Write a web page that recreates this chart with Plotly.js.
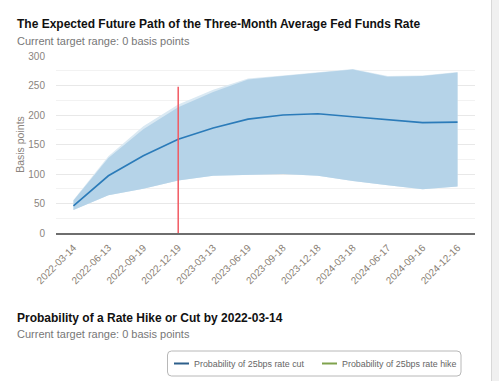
<!DOCTYPE html>
<html>
<head>
<meta charset="utf-8">
<script src="https://cdn.plot.ly/plotly-3.0.1.min.js"></script>
<style>
html,body{margin:0;padding:0;background:#fff;overflow:hidden;}
#chart{width:499px;height:381px;}
</style>
</head>
<body>
<div id="chart"></div>
<script>
// ---- data ----
const dates = ['2022-03-14','2022-06-13','2022-09-19','2022-12-19','2023-03-13','2023-06-19',
               '2023-09-18','2023-12-18','2024-03-18','2024-06-17','2024-09-16','2024-12-16'];
const meanPath  = [46, 97, 131, 159, 178, 193, 200, 202, 197, 192, 187, 188];
const upperBand = [55, 127, 176, 213, 239, 260, 266, 272, 277, 265, 266, 272];
const lowerBand = [39, 64, 75, 89, 97, 99, 100, 97, 88, 81, 74, 79];
const outerUpper = [56, 130, 181, 218, 243, 262, 267, 273, 278, 266, 267, 273];
const outerLower = [39, 64, 75, 89, 97, 99, 100, 97, 88, 81, 74, 79];
const markerDate = '2022-12-19';
const markerRange = [0, 248];
const yTitle = 'Basis points';
const title1 = 'The Expected Future Path of the Three-Month Average Fed Funds Rate';
const sub1 = 'Current target range: 0 basis points';
const title2 = 'Probability of a Rate Hike or Cut by 2022-03-14';
const sub2 = 'Current target range: 0 basis points';
const legendNames = ['Probability of 25bps rate cut', 'Probability of 25bps rate hike'];
const legendColors = ['#2d5f8b', '#7fa24c'];

// ---- layout geometry ----
const W = 499, H = 381, L = 56, R = 24, T = 56, B = 148;
const PW = W - L - R, PH = H - T - B;
const px = x => (x - L) / PW;
const py = y => (H - B - y) / PH;

const font = 'Liberation Sans, Arial, sans-serif';

const traces = [
  {x: dates, y: outerLower, type: 'scatter', mode: 'lines', line: {width: 0}, hoverinfo: 'skip', showlegend: false},
  {x: dates, y: outerUpper, type: 'scatter', mode: 'lines', line: {width: 0}, fill: 'tonexty',
   fillcolor: 'rgba(218,233,243,1)', hoverinfo: 'skip', showlegend: false},
  {x: dates, y: lowerBand, type: 'scatter', mode: 'lines', line: {width: 0}, hoverinfo: 'skip', showlegend: false},
  {x: dates, y: upperBand, type: 'scatter', mode: 'lines', line: {width: 0}, fill: 'tonexty',
   fillcolor: 'rgba(181,211,232,1)', hoverinfo: 'skip', showlegend: false},
  {x: dates, y: meanPath, type: 'scatter', mode: 'lines', line: {color: '#2b7bb9', width: 1.6}, showlegend: false},
  {x: [markerDate, markerDate], y: markerRange, type: 'scatter', mode: 'lines',
   line: {color: '#f25a63', width: 1.5}, showlegend: false}
];

const annotations = [
  {text: '<b>' + title1 + '</b>', x: px(15), y: py(24), xref: 'paper', yref: 'paper', xanchor: 'left', yanchor: 'middle',
   showarrow: false, font: {family: font, size: 12, color: '#111'}},
  {text: sub1, x: px(15), y: py(41), xref: 'paper', yref: 'paper', xanchor: 'left', yanchor: 'middle',
   showarrow: false, font: {family: font, size: 11, color: '#777'}},
  {text: '<b>' + title2 + '</b>', x: px(15), y: py(318), xref: 'paper', yref: 'paper', xanchor: 'left', yanchor: 'middle',
   showarrow: false, font: {family: font, size: 12, color: '#111'}},
  {text: sub2, x: px(15), y: py(334), xref: 'paper', yref: 'paper', xanchor: 'left', yanchor: 'middle',
   showarrow: false, font: {family: font, size: 11, color: '#777'}},
  {text: legendNames[0], x: px(192), y: py(363.5), xref: 'paper', yref: 'paper', xanchor: 'left', yanchor: 'middle',
   showarrow: false, font: {family: font, size: 8.9, color: '#666'}},
  {text: legendNames[1], x: px(340), y: py(363.5), xref: 'paper', yref: 'paper', xanchor: 'left', yanchor: 'middle',
   showarrow: false, font: {family: font, size: 8.9, color: '#666'}}
];

// rounded legend box path
function roundRect(x0, y0, x1, y1, r) {
  const X = v => px(v), Y = v => py(v);
  return `M ${X(x0 + r)} ${Y(y0)} L ${X(x1 - r)} ${Y(y0)} Q ${X(x1)} ${Y(y0)} ${X(x1)} ${Y(y0 + r)} ` +
         `L ${X(x1)} ${Y(y1 - r)} Q ${X(x1)} ${Y(y1)} ${X(x1 - r)} ${Y(y1)} L ${X(x0 + r)} ${Y(y1)} ` +
         `Q ${X(x0)} ${Y(y1)} ${X(x0)} ${Y(y1 - r)} L ${X(x0)} ${Y(y0 + r)} Q ${X(x0)} ${Y(y0)} ${X(x0 + r)} ${Y(y0)} Z`;
}

const shapes = [
  // page scrollbar at right
  {type: 'rect', xref: 'paper', yref: 'paper', x0: px(491), x1: px(500), y0: py(-1), y1: py(382),
   fillcolor: '#f0f0f0', line: {width: 0}, layer: 'above'},
  {type: 'line', xref: 'paper', yref: 'paper', x0: px(491.5), x1: px(491.5), y0: py(-1), y1: py(382),
   line: {color: '#d8d8d8', width: 1}},
  // legend box
  {type: 'path', xref: 'paper', yref: 'paper', path: roundRect(167.5, 351, 461, 376, 4),
   line: {color: '#b8b8b8', width: 1}, fillcolor: 'rgba(0,0,0,0)'},
  {type: 'line', xref: 'paper', yref: 'paper', x0: px(174), x1: px(189), y0: py(363.5), y1: py(363.5),
   line: {color: legendColors[0], width: 2}},
  {type: 'line', xref: 'paper', yref: 'paper', x0: px(322), x1: px(337), y0: py(363.5), y1: py(363.5),
   line: {color: legendColors[1], width: 2}}
];

const layout = {
  width: W, height: H,
  margin: {l: L, r: R, t: T, b: B, pad: 0},
  paper_bgcolor: '#fff', plot_bgcolor: '#fff',
  font: {family: font, color: '#8a847e'},
  showlegend: false,
  xaxis: {
    type: 'category', range: [-0.5, dates.length - 0.5], tickangle: -45, showgrid: false, zeroline: false,
    showline: true, linecolor: '#6e6e6e', linewidth: 2,
    ticks: '', tickfont: {size: 10, color: '#8a7f75'}, ticklabelstandoff: 3, automargin: false
  },
  yaxis: {
    range: [0, 300], dtick: 50, tick0: 0, showgrid: true, gridcolor: '#e8e8e8', gridwidth: 1,
    minor: {dtick: 25, showgrid: true, gridcolor: '#f2f2f2', gridwidth: 1},
    zeroline: false, showline: false, ticks: '',
    tickfont: {size: 10, color: '#8a847e'}, ticklabelstandoff: 10,
    title: {text: yTitle, font: {size: 10.5, color: '#8a847e'}, standoff: 1},
    automargin: false
  },
  annotations: annotations,
  shapes: shapes
};

Plotly.newPlot('chart', traces, layout, {displayModeBar: false, staticPlot: true});
</script>
</body>
</html>
